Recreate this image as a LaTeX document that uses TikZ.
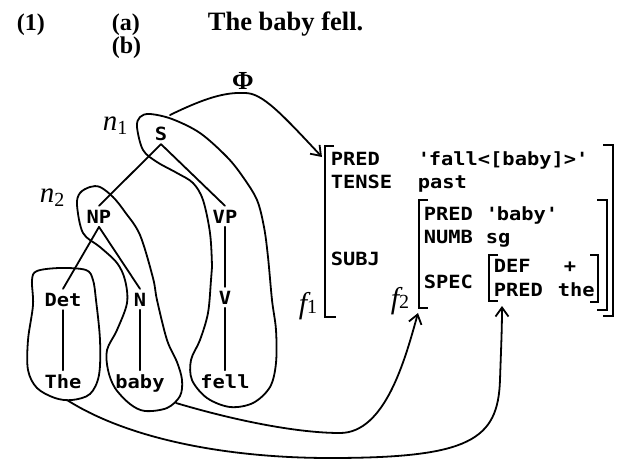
\documentclass[tikz,border=0pt]{standalone}
\usepackage{fontspec}
\setmainfont{Liberation Serif}
\newfontfamily\avmfont[FakeStretch=1.12]{DejaVu Sans Mono Bold}
\usetikzlibrary{arrows.meta}
\begin{document}
\begin{tikzpicture}[x=1pt,y=-1pt, line width=1.8pt, line cap=round, line join=round,
  av/.style={font=\avmfont\fontsize{18.2}{20}\selectfont, inner sep=0pt, anchor=base west},
  tr/.style={font=\avmfont\fontsize{18.2}{20}\selectfont, inner sep=3pt, anchor=base},
  ttl/.style={font=\bfseries\fontsize{24}{26}\selectfont, inner sep=0pt, anchor=base west},
  lbl/.style={inner sep=0pt, anchor=base west, font=\itshape\fontsize{29}{29}\selectfont},
  blob/.style={line width=1.8pt},
  brk/.style={line width=2.2pt, line cap=butt, line join=miter},
  link/.style={line width=1.8pt, -{Straight Barb[length=9pt,width=13pt]}},
  ]
\useasboundingbox (0,0) rectangle (622,459);
% title
\node[ttl] (num) at (16,30) {(1)};
\node[ttl] (ia) at (111,30) {(a)};
\node[ttl, font=\bfseries\fontsize{26.5}{27}\selectfont] (sent) at (207,30) {The baby fell.};
\node[ttl] (ib) at (111,53) {(b)};
% tree
\node[tr] (S) at (161,140) {S};
\node[tr] (NP) at (99,223) {NP};
\node[tr] (VP) at (225,223) {VP};
\node[tr] (Det) at (63,306) {Det};
\node[tr] (N) at (140,306) {N};
\node[tr] (V) at (225,304) {V};
\node[tr] (The) at (63,388) {The};
\node[tr] (baby) at (140,388) {baby};
\node[tr] (fell) at (225,388) {fell};
\draw (S.south) -- (NP.north);
\draw (S.south) -- (VP.north);
\draw (NP.south) -- (Det.north);
\draw (NP.south) -- (N.north);
\draw (VP.south) -- (V.north);
\draw (Det.south) -- (The.north);
\draw (N.south) -- (baby.north);
\draw (V.south) -- (fell.north);
% node labels
\node[lbl] (n1) at (102,130) {n\raisebox{-4pt}{\upshape\fontsize{20}{20}\selectfont 1}};
\node[lbl] (n2) at (39,202) {n\raisebox{-4pt}{\upshape\fontsize{20}{20}\selectfont 2}};
% loops
\draw[blob] plot[smooth cycle, tension=0.55] coordinates {(32,280) (33,305) (28,340) (28,370) (37,388) (55,398) (72,400) (90,394) (99,375) (100,340) (96,300) (93,280) (86,270) (60,268) (37,271)};
\draw[blob] plot[smooth cycle, tension=0.55] coordinates {(90,187) (80,193) (77,205) (83,233) (100,247) (117,263) (125,280) (127,303) (117,330) (107,350) (108,370) (115,388) (130,404) (145,411) (167,408) (180,396) (182,380) (177,362) (167,340) (157,300) (153,278) (140,235) (125,212) (113,197) (100,187)};
\draw[blob] plot[smooth cycle, tension=0.55] coordinates {(137,127) (140,117) (150,114) (172,119) (200,133) (227,157) (243,177) (257,200) (264,227) (268,257) (272,300) (276,330) (276,363) (270,387) (253,403) (230,407) (207,398) (192,380) (191,360) (200,340) (208,313) (211,280) (212,267) (210,233) (203,200) (193,183) (177,173) (157,162) (143,150)};
% f-structure
\node[font=\fontsize{26}{26}\selectfont, anchor=base, inner sep=0pt] (phi) at (243,89) {\textbf{Φ}};
\node[av] (pred1) at (330,165) {PRED};
\node[av] (fall) at (417,165) {\textquotesingle fall<[baby]>\textquotesingle};
\node[av] (tense) at (330,188) {TENSE};
\node[av] (past) at (417,188) {past};
\node[av] (subj) at (330,265) {SUBJ};
\node[av] (pred2) at (423,220) {PRED};
\node[av] (babyq) at (485,220) {\textquotesingle baby\textquotesingle};
\node[av] (numb) at (423,243) {NUMB};
\node[av] (sg) at (485,243) {sg};
\node[av] (spec) at (423,288) {SPEC};
\node[av] (def) at (493,272) {DEF};
\node[av] (plus) at (563,272) {+};
\node[av] (pred3) at (493,296) {PRED};
\node[av] (the) at (557,296) {the};
\node[lbl, font=\itshape\fontsize{30}{30}\selectfont] (f1) at (298,313) {f\upshape\fontsize{20}{20}\selectfont 1};
\node[lbl, font=\itshape\fontsize{30}{30}\selectfont] (f2) at (390,308) {f\upshape\fontsize{20}{20}\selectfont 2};
% brackets
\draw[brk] (334,146) -- (325,146) -- (325,317) -- (336,317);
\draw[brk] (603,145) -- (613,145) -- (613,316) -- (603,316);
\draw[brk] (428,200) -- (419,200) -- (419,308) -- (428,308);
\draw[brk] (597,200) -- (607,200) -- (607,310) -- (597,310);
\draw[brk] (498,255) -- (489,255) -- (489,301) -- (498,301);
\draw[brk] (590,255) -- (598,255) -- (598,302) -- (590,302);
% connectors
\coordinate (phistart) at (170,115);
\coordinate (f1tip) at (322,157);
\coordinate (thebot) at (67,400);
\coordinate (spectip) at (502,306);
\coordinate (babybot) at (176,403);
\coordinate (f2tip) at (418,313);
\draw[link] (phistart) .. controls (205,98) and (225,92) .. (245,93) .. controls (262,93) and (280,112) .. (f1tip);
\draw[link] (babybot) .. controls (240,422) and (300,433) .. (340,433) .. controls (385,433) and (405,360) .. (f2tip);
\draw[link] (thebot) .. controls (130,440) and (230,458) .. (330,458) .. controls (470,458) and (498,440) .. (500,380) .. controls (501,350) and (502,330) .. (spectip);
\end{tikzpicture}
\end{document}
